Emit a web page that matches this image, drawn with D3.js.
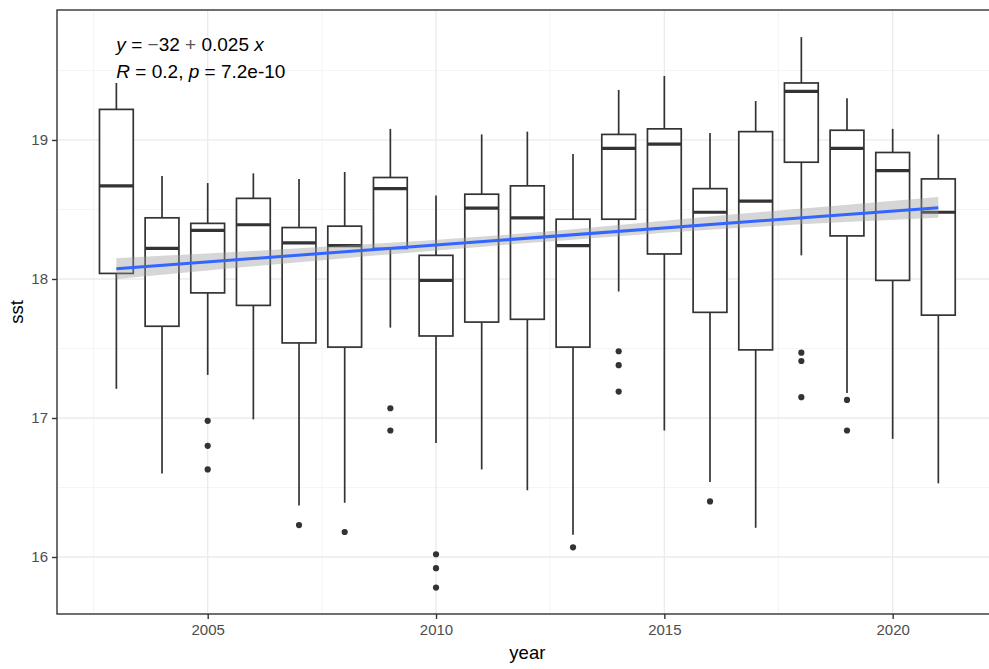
<!DOCTYPE html>
<html>
<head>
<meta charset="utf-8">
<script src="https://cdn.jsdelivr.net/npm/d3@7"></script>
<style>
  body { margin: 0; background: #fff; overflow: hidden; }
  svg { display: block; font-family: "Liberation Sans", Arial, sans-serif; }
</style>
</head>
<body>
<div id="chart"></div>
<script>
'use strict';

// yearly sst boxplot stats
var years      = [2003, 2004, 2005, 2006, 2007, 2008, 2009, 2010, 2011, 2012, 2013, 2014, 2015, 2016, 2017, 2018, 2019, 2020, 2021];
var whiskerLo  = [17.21, 16.60, 17.31, 16.99, 16.37, 16.39, 17.65, 16.82, 16.63, 16.48, 16.16, 17.91, 16.91, 16.54, 16.21, 18.17, 17.18, 16.85, 16.53];
var q1         = [18.04, 17.66, 17.90, 17.81, 17.54, 17.51, 18.22, 17.59, 17.69, 17.71, 17.51, 18.43, 18.18, 17.76, 17.49, 18.84, 18.31, 17.99, 17.74];
var median     = [18.67, 18.22, 18.35, 18.39, 18.26, 18.24, 18.65, 17.99, 18.51, 18.44, 18.24, 18.94, 18.97, 18.48, 18.56, 19.35, 18.94, 18.78, 18.48];
var q3         = [19.22, 18.44, 18.40, 18.58, 18.37, 18.38, 18.73, 18.17, 18.61, 18.67, 18.43, 19.04, 19.08, 18.65, 19.06, 19.41, 19.07, 18.91, 18.72];
var whiskerHi  = [19.41, 18.74, 18.69, 18.76, 18.72, 18.77, 19.08, 18.60, 19.04, 19.06, 18.90, 19.36, 19.46, 19.05, 19.28, 19.74, 19.30, 19.08, 19.04];

// outliers as [year, sst]
var outliers = [
  [2005, 16.98], [2005, 16.80], [2005, 16.63],
  [2007, 16.23],
  [2008, 16.18],
  [2009, 17.07], [2009, 16.91],
  [2010, 16.02], [2010, 15.92], [2010, 15.78],
  [2013, 16.07],
  [2014, 17.48], [2014, 17.38], [2014, 17.19],
  [2016, 16.40],
  [2018, 17.47], [2018, 17.41], [2018, 17.15],
  [2019, 17.13], [2019, 16.91]
];

// linear fit and its confidence band
var fitYears  = [2003, 2021];
var fitValues = [18.074, 18.513];
var bandYears = [2003, 2008, 2012, 2016, 2021];
var bandLo    = [18.000, 18.150, 18.258, 18.355, 18.440];
var bandHi    = [18.150, 18.240, 18.330, 18.450, 18.590];

var xTicks = [2005, 2010, 2015, 2020];
var xMinor = [2002.5, 2007.5, 2012.5, 2017.5, 2022.5];
var yTicks = [16, 17, 18, 19];
var yMinor = [15.5, 16.5, 17.5, 18.5, 19.5];

var W = 989, H = 669;
var panel = { left: 57, top: 10, right: 997.7, bottom: 614 };

var svg = d3.select('#chart').append('svg')
  .attr('width', W)
  .attr('height', H);

var x = d3.scaleLinear().domain([2001.7, 2022.3]).range([panel.left, panel.right]);
var y = d3.scaleLinear().domain([15.59, 19.935]).range([panel.bottom, panel.top]);

svg.append('clipPath').attr('id', 'pclip')
  .append('rect')
  .attr('x', panel.left).attr('y', panel.top)
  .attr('width', panel.right - panel.left).attr('height', panel.bottom - panel.top);

var grid = svg.append('g').attr('clip-path', 'url(#pclip)');

// minor grid
grid.selectAll('line.xminor').data(xMinor).enter().append('line')
  .attr('x1', function (d) { return x(d); }).attr('x2', function (d) { return x(d); })
  .attr('y1', panel.top).attr('y2', panel.bottom)
  .style('stroke', '#f2f2f2').style('stroke-width', 0.8);
grid.selectAll('line.yminor').data(yMinor).enter().append('line')
  .attr('y1', function (d) { return y(d); }).attr('y2', function (d) { return y(d); })
  .attr('x1', panel.left).attr('x2', panel.right)
  .style('stroke', '#f2f2f2').style('stroke-width', 0.8);
// major grid
grid.selectAll('line.xmajor').data(xTicks).enter().append('line')
  .attr('x1', function (d) { return x(d); }).attr('x2', function (d) { return x(d); })
  .attr('y1', panel.top).attr('y2', panel.bottom)
  .style('stroke', '#ebebeb').style('stroke-width', 1.3);
grid.selectAll('line.ymajor').data(yTicks).enter().append('line')
  .attr('y1', function (d) { return y(d); }).attr('y2', function (d) { return y(d); })
  .attr('x1', panel.left).attr('x2', panel.right)
  .style('stroke', '#ebebeb').style('stroke-width', 1.3);

// boxes
var boxW = x(2003.37) - x(2002.63);
var ink = '#333333';
var boxes = svg.append('g').attr('clip-path', 'url(#pclip)');

years.forEach(function (yr, i) {
  var cx = x(yr);
  var g = boxes.append('g');
  g.append('line')
    .attr('x1', cx).attr('x2', cx)
    .attr('y1', y(q3[i])).attr('y2', y(whiskerHi[i]))
    .style('stroke', ink).style('stroke-width', 1.7);
  g.append('line')
    .attr('x1', cx).attr('x2', cx)
    .attr('y1', y(q1[i])).attr('y2', y(whiskerLo[i]))
    .style('stroke', ink).style('stroke-width', 1.7);
  g.append('rect')
    .attr('x', cx - boxW / 2).attr('width', boxW)
    .attr('y', y(q3[i])).attr('height', y(q1[i]) - y(q3[i]))
    .style('fill', '#fff').style('stroke', ink).style('stroke-width', 1.7);
  g.append('line')
    .attr('x1', cx - boxW / 2).attr('x2', cx + boxW / 2)
    .attr('y1', y(median[i])).attr('y2', y(median[i]))
    .style('stroke', ink).style('stroke-width', 3.2);
});

boxes.selectAll('circle.out').data(outliers).enter().append('circle')
  .attr('cx', function (d) { return x(d[0]); })
  .attr('cy', function (d) { return y(d[1]); })
  .attr('r', 3.1)
  .style('fill', ink);

// confidence band + fit line
var bandData = bandYears.map(function (yr, i) { return [yr, bandLo[i], bandHi[i]]; });
boxes.append('path')
  .datum(bandData)
  .attr('d', d3.area()
    .x(function (d) { return x(d[0]); })
    .y0(function (d) { return y(d[1]); })
    .y1(function (d) { return y(d[2]); })
    .curve(d3.curveMonotoneX))
  .style('fill', '#999999').style('fill-opacity', 0.4);

boxes.append('path')
  .datum(fitYears.map(function (yr, i) { return [yr, fitValues[i]]; }))
  .attr('d', d3.line()
    .x(function (d) { return x(d[0]); })
    .y(function (d) { return y(d[1]); }))
  .style('fill', 'none').style('stroke', '#3366ff').style('stroke-width', 3);

// panel border
svg.append('rect')
  .attr('x', panel.left).attr('y', panel.top)
  .attr('width', panel.right - panel.left).attr('height', panel.bottom - panel.top)
  .style('fill', 'none').style('stroke', '#333333').style('stroke-width', 1.4);

// axes
var xAxis = svg.append('g')
  .attr('transform', 'translate(0,' + panel.bottom + ')')
  .call(d3.axisBottom(x).tickValues(xTicks).tickFormat(d3.format('d')).tickSize(5).tickPadding(5));
var yAxis = svg.append('g')
  .attr('transform', 'translate(' + panel.left + ',0)')
  .call(d3.axisLeft(y).tickValues(yTicks).tickFormat(d3.format('d')).tickSize(5).tickPadding(4));

[xAxis, yAxis].forEach(function (ax) {
  ax.select('.domain').remove();
  ax.selectAll('.tick line').style('stroke', '#333333').style('stroke-width', 1.4);
  ax.selectAll('.tick text')
    .style('fill', '#4d4d4d')
    .style('font-size', '15px')
    .style('font-family', '"Liberation Sans", Arial, sans-serif');
});

svg.append('text')
  .attr('x', (panel.left + panel.right) / 2).attr('y', 659)
  .attr('text-anchor', 'middle')
  .style('font-size', '18.5px').style('fill', '#000')
  .text('year');

svg.append('text')
  .attr('transform', 'translate(23,' + ((panel.top + panel.bottom) / 2) + ') rotate(-90)')
  .attr('text-anchor', 'middle')
  .style('font-size', '18.5px').style('fill', '#000')
  .text('sst');

// regression annotation
var ann = svg.append('g').style('font-size', '19px').style('fill', '#000');
var l1 = ann.append('text').attr('x', x(2003)).attr('y', 51);
l1.append('tspan').style('font-style', 'italic').text('y');
l1.append('tspan').text(' = ');
l1.append('tspan').style('fill', '#555').text('\u2212');
l1.append('tspan').text('32');
l1.append('tspan').style('fill', '#555').text(' + ');
l1.append('tspan').text('0.025 ');
l1.append('tspan').style('font-style', 'italic').text('x');

var l2 = ann.append('text').attr('x', x(2003)).attr('y', 77.5);
l2.append('tspan').style('font-style', 'italic').text('R');
l2.append('tspan').text(' = 0.2, ');
l2.append('tspan').style('font-style', 'italic').text('p');
l2.append('tspan').text(' = 7.2e-10');
</script>
</body>
</html>
